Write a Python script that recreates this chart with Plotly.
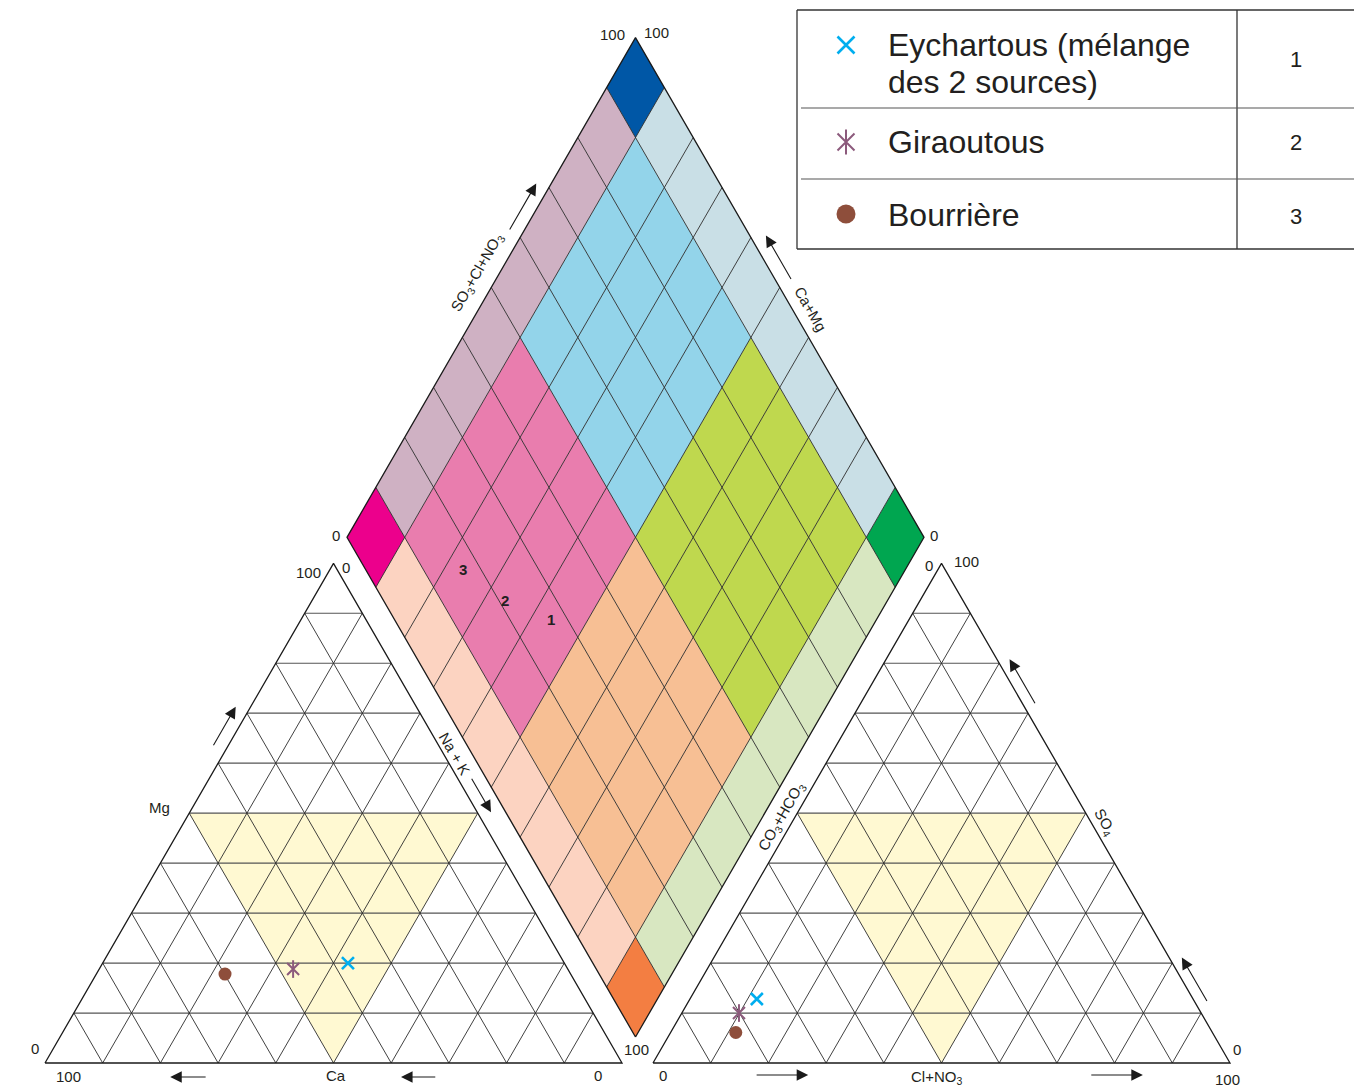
import numpy as np
import plotly.graph_objects as go

# ---------------- data (% of meq/L) ----------------
sample_names = ["Eychartous (mélange", "Giraoutous", "Bourrière"]
sample_name_2nd_line = ["des 2 sources)", "", ""]
sample_ids = ["1", "2", "3"]
ca = [37.5, 47.6, 59.9]
mg = [20.0, 18.8, 17.8]
na_k = [42.5, 33.6, 22.3]
so4 = [12.8, 10.0, 6.1]
cl_no3 = [11.6, 9.9, 11.3]
co3_hco3 = [75.6, 80.1, 82.6]
tick_zero, tick_hundred = "0", "100"

# ---------------- styles ----------------
marker_colors = ["#00AEEF", "#8C5A7C", "#8E4E3B"]
TXT = "#231F20"
FONT = "Liberation Sans, Arial, Helvetica, sans-serif"
LINE = "#2b2b2b"

W, HGT = 1354, 1089
S = 577.0
H = S * np.sqrt(3) / 2
LB = np.array([45.0, 1063.0])
RB = np.array([653.0, 1063.0])
DC = np.array([635.5, 537.3])


def tri(origin, a, b):
    return origin + np.array([S * (a + b / 2.0), -H * b])


LA, LR = tri(LB, 0, 1), tri(LB, 1, 0)
RA, RR = tri(RB, 0, 1), tri(RB, 1, 0)
DB = DC + np.array([0, H]); DT = DC - np.array([0, H])
DL = DC - np.array([S / 2, 0]); DR = DC + np.array([S / 2, 0])
v = np.array([S / 2, -H]); u = np.array([-S / 2, -H])


def dia(X, Y):
    return DB + X * v + Y * u


def path(pts):
    return "M " + " L ".join(f"{p[0]:.2f},{p[1]:.2f}" for p in pts) + " Z"


C = dict(top="#0057A6", left="#EC008C", right="#00A650", bottom="#F37E42",
         s_ul="#CFB1C3", s_ur="#C9DFE6", s_ll="#FCD3C1", s_lr="#D8E7C1",
         q_top="#93D4EA", q_left="#E97DAE", q_right="#BFD84E", q_bottom="#F7BF94",
         yellow="#FFF9D2")


def cell_color(i, j):
    if i == 9 and j == 9: return C["top"]
    if i == 0 and j == 9: return C["left"]
    if i == 9 and j == 0: return C["right"]
    if i == 0 and j == 0: return C["bottom"]
    if j == 9: return C["s_ul"]
    if i == 9: return C["s_ur"]
    if i == 0: return C["s_ll"]
    if j == 0: return C["s_lr"]
    if i >= 5 and j >= 5: return C["q_top"]
    if i < 5 and j >= 5: return C["q_left"]
    if i >= 5: return C["q_right"]
    return C["q_bottom"]


shapes = []
for i in range(10):
    for j in range(10):
        pts = [dia(i / 10, j / 10), dia((i + 1) / 10, j / 10),
               dia((i + 1) / 10, (j + 1) / 10), dia(i / 10, (j + 1) / 10)]
        shapes.append(dict(type="path", path=path(pts), fillcolor=cell_color(i, j),
                           line=dict(width=0), layer="below", xref="x", yref="y"))
for o in (LB, RB):
    pts = [tri(o, 0, 0.5), tri(o, 0.5, 0.5), tri(o, 0.5, 0)]
    shapes.append(dict(type="path", path=path(pts), fillcolor=C["yellow"],
                       line=dict(width=0), layer="below", xref="x", yref="y"))

# grid lines
gx, gy = [], []
hx, hy = [], []


def seg(xs, ys, p, q):
    xs += [p[0], q[0], None]; ys += [p[1], q[1], None]


for o in (LB, RB):
    for k in range(1, 10):
        f = k / 10
        seg(hx, hy, tri(o, 0, f), tri(o, 1 - f, f))
        seg(gx, gy, tri(o, f, 0), tri(o, f, 1 - f))
        seg(gx, gy, tri(o, 1 - f, 0), tri(o, 0, 1 - f))
for k in range(1, 10):
    f = k / 10
    seg(gx, gy, dia(f, 0), dia(f, 1))
    seg(gx, gy, dia(0, f), dia(1, f))

ox, oy = [], []
for pts in ([LB, LR, LA, LB], [RB, RR, RA, RB], [DB, DR, DT, DL, DB]):
    for p in pts:
        ox.append(p[0]); oy.append(p[1])
    ox.append(None); oy.append(None)

fig = go.Figure()
fig.add_trace(go.Scatter(x=hx, y=hy, mode="lines", line=dict(color="#555555", width=1.2), hoverinfo="skip"))
fig.add_trace(go.Scatter(x=gx, y=gy, mode="lines", line=dict(color=LINE, width=0.9), hoverinfo="skip"))
fig.add_trace(go.Scatter(x=ox, y=oy, mode="lines", line=dict(color="#1a1a1a", width=1.3), hoverinfo="skip"))

# data points in the triangles
cat_pts = [tri(LB, n / 100, m / 100) for n, m in zip(na_k, mg)]
an_pts = [tri(RB, c / 100, s / 100) for c, s in zip(cl_no3, so4)]
dia_pts = [dia((s + c) / 100, (a + m) / 100) for s, c, a, m in zip(so4, cl_no3, ca, mg)]


def add_marker(xs, ys, k, size):
    col = marker_colors[k]
    if k == 0:
        fig.add_trace(go.Scatter(x=xs, y=ys, mode="markers", hoverinfo="skip",
                                 marker=dict(symbol="x-thin-open", size=size, color=col,
                                             line=dict(color=col, width=2.6))))
    elif k == 1:
        fig.add_trace(go.Scatter(x=xs, y=ys, mode="markers", hoverinfo="skip",
                                 marker=dict(symbol="x-thin-open", size=size, color=col,
                                             line=dict(color=col, width=2))))
        fig.add_trace(go.Scatter(x=xs, y=ys, mode="markers", hoverinfo="skip",
                                 marker=dict(symbol="line-ns-open", size=size * 1.05, color=col,
                                             line=dict(color=col, width=2))))
    else:
        fig.add_trace(go.Scatter(x=xs, y=ys, mode="markers", hoverinfo="skip",
                                 marker=dict(symbol="circle", size=size, color=col, line=dict(width=0))))


for k in range(3):
    add_marker([cat_pts[k][0], an_pts[k][0]], [cat_pts[k][1], an_pts[k][1]], k, 12 if k < 2 else 13)

annotations = []


def txt(p, s, size=15, angle=0, bold=False, xanchor="center", yanchor="middle", xshift=0, yshift=0):
    annotations.append(dict(x=p[0], y=p[1], text=f"<b>{s}</b>" if bold else s, showarrow=False,
                            xref="x", yref="y", xanchor=xanchor, yanchor=yanchor, textangle=angle,
                            xshift=xshift, yshift=yshift,
                            font=dict(family=FONT, size=size, color=TXT)))


# diamond number labels
label_shift = [(11, 8), (4, 5), (1, -8)]
for k in range(3):
    txt(dia_pts[k], sample_ids[k], size=15, bold=True, xshift=label_shift[k][0], yshift=label_shift[k][1])


def edge_pt(p0, p1, t, off):
    d = (p1 - p0) / np.linalg.norm(p1 - p0)
    n = np.array([d[1], -d[0]])
    return p0 + t * (p1 - p0) + off * n


def arrow(p0, p1, t0, t1, off):
    a = edge_pt(p0, p1, t0, off); b = edge_pt(p0, p1, t1, off)
    annotations.append(dict(x=b[0], y=b[1], ax=a[0], ay=a[1], xref="x", yref="y", axref="x", ayref="y",
                            text="", showarrow=True, arrowhead=2, arrowsize=2.1, arrowwidth=1.1,
                            arrowcolor="#1a1a1a"))


# arrows
arrow(LB, LA, 0.62, 0.70, 13)
arrow(LB, LR, 0.281, 0.217, -14)
arrow(LB, LR, 0.679, 0.617, -14)
arrow(LA, LR, 0.44, 0.51, 12)
arrow(RB, RR, 0.177, 0.269, -12)
arrow(RB, RR, 0.757, 0.849, -12)
arrow(RR, RA, 0.706, 0.797, -11)
arrow(RR, RA, 0.11, 0.20, -11)
arrow(DL, DT, 0.60, 0.695, 13)
arrow(DR, DT, 0.50, 0.59, -14)

# axis titles
txt(edge_pt(DL, DT, 0.51, 19), "SO<sub>3</sub>+Cl+NO<sub>3</sub>", angle=-60)
txt(edge_pt(DR, DT, 0.44, -16), "Ca+Mg", angle=60)
txt(edge_pt(DB, DR, 0.458, -16), "CO<sub>3</sub>+HCO<sub>3</sub>", angle=-60)
txt(edge_pt(LA, LR, 0.39, 10), "Na + K", angle=60)
txt(edge_pt(RR, RA, 0.47, -12), "SO<sub>4</sub>", angle=60)
txt(edge_pt(LB, LA, 0.512, 0) + np.array([-33, 0]), "Mg")
txt((LB + LR) / 2 + np.array([2, 12]), "Ca")
txt((RB + RR) / 2 + np.array([-5, 14]), "Cl+NO<sub>3</sub>")

# tick labels at corners
txt(DT + np.array([-23, -3]), tick_hundred)
txt(DT + np.array([21, -5]), tick_hundred)
txt(DL + np.array([-11, -2]), tick_zero)
txt(DR + np.array([10, -2]), tick_zero)
txt(LA + np.array([-25, 9]), tick_hundred)
txt(LA + np.array([12, 4]), tick_zero)
txt(RA + np.array([-13, 2]), tick_zero)
txt(RA + np.array([25, -2]), tick_hundred)
txt(LB + np.array([-10, -15]), tick_zero)
txt(LB + np.array([23, 13]), tick_hundred)
txt(LR + np.array([-24, 12]), tick_zero)
txt(LR + np.array([14, -14]), tick_hundred)
txt(RB + np.array([10, 12]), tick_zero)
txt(RR + np.array([7, -14]), tick_zero)
txt(RR + np.array([-3, 16]), tick_hundred)

# ---------------- legend table ----------------
LX0, LX1, LXV, LXR = 797, 801, 1237, 1354
LY = [10, 108, 179, 249]
lw = dict(color="#333333", width=1.3)
shapes.append(dict(type="line", x0=LX0, x1=LXR, y0=LY[0], y1=LY[0], xref="x", yref="y", line=lw))
shapes.append(dict(type="line", x0=LX0, x1=LXR, y0=LY[3], y1=LY[3], xref="x", yref="y", line=lw))
shapes.append(dict(type="line", x0=LX0, x1=LX0, y0=LY[0], y1=LY[3], xref="x", yref="y", line=lw))
shapes.append(dict(type="line", x0=LXV, x1=LXV, y0=LY[0], y1=LY[3], xref="x", yref="y", line=lw))
for yy in LY[1:3]:
    shapes.append(dict(type="line", x0=LX1, x1=LXR, y0=yy, y1=yy, xref="x", yref="y",
                       line=dict(color="#555555", width=1.1)))

leg_marker_y = [45, 142, 214]
leg_text_y = [[45, 82], [142], [215]]
leg_num_y = [59, 142, 216]
for k in range(3):
    add_marker([846], [leg_marker_y[k]], k, 17 if k < 2 else 19)
    lines = [sample_names[k]] + ([sample_name_2nd_line[k]] if sample_name_2nd_line[k] else [])
    for line_txt, yy in zip(lines, leg_text_y[k]):
        txt((886, yy), line_txt, size=32, xanchor="left")
    txt((1296, leg_num_y[k]), sample_ids[k], size=22)

fig.update_layout(
    width=W, height=HGT, margin=dict(l=0, r=0, t=0, b=0),
    paper_bgcolor="white", plot_bgcolor="white", showlegend=False,
    xaxis=dict(range=[0, W], visible=False, fixedrange=True),
    yaxis=dict(range=[HGT, 0], visible=False, fixedrange=True),
    shapes=shapes, annotations=annotations,
)
fig.write_html("out.html")
